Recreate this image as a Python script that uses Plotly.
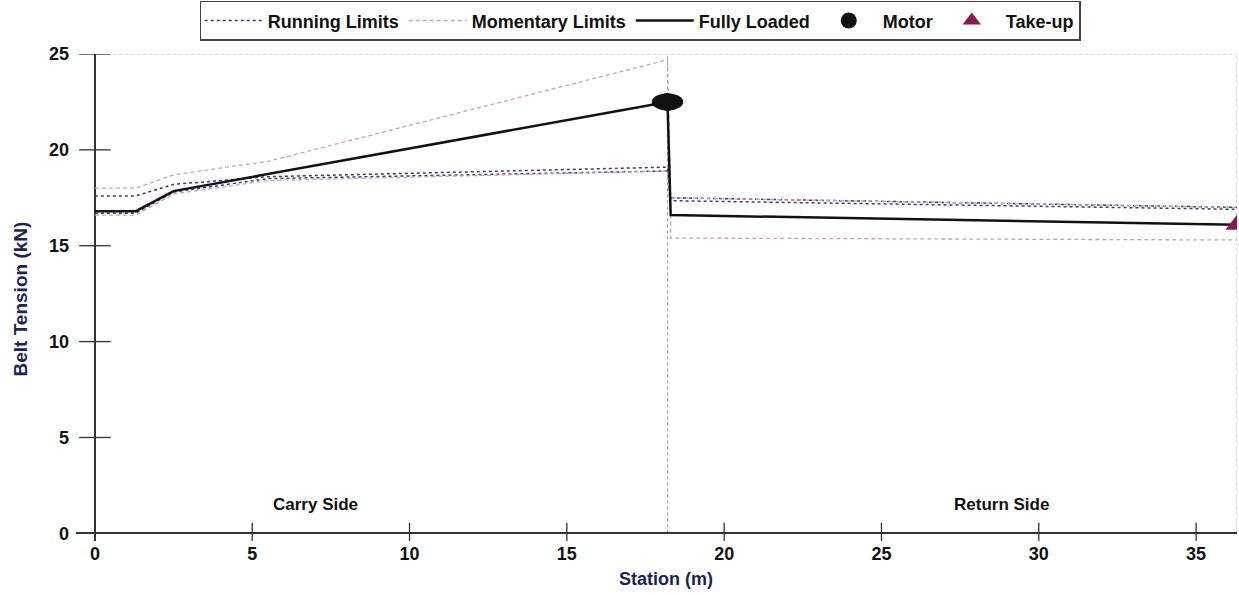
import plotly.graph_objects as go

# Station (m) and belt tension (kN) for each tension profile
run_hi_x = [0, 1.3, 2.5, 5.5, 18.2, 18.3, 36.3]
run_hi_y = [17.6, 17.6, 18.2, 18.6, 19.1, 17.5, 17.0]
run_lo_x = [0, 1.3, 2.5, 5.5, 18.2, 18.3, 36.3]
run_lo_y = [16.7, 16.7, 17.8, 18.5, 18.9, 17.35, 16.9]

mom_hi_x = [0, 1.3, 2.5, 5.5, 18.2, 18.3, 36.3]
mom_hi_y = [18.0, 18.0, 18.7, 19.4, 24.7, 17.5, 17.0]
mom_lo_x = [0, 1.3, 2.5, 5.5, 18.2, 18.3, 18.3, 36.3]
mom_lo_y = [16.6, 16.6, 17.7, 18.4, 18.9, 16.6, 15.4, 15.3]

full_x = [0, 1.3, 2.5, 18.2, 18.3, 36.3]
full_y = [16.8, 16.8, 17.85, 22.5, 16.6, 16.1]

motor_x, motor_y = [18.2], [22.5]
takeup_x, takeup_y = [36.3], [16.1]

drive_station = 18.2
x_end = 36.3
x_ticks = [0, 5, 10, 15, 20, 25, 30, 35]
y_ticks = [0, 5, 10, 15, 20, 25]

RUN_C = "#3b3d6e"
MOM_C = "#c9a3ad"
NAVY = "#1c2455"
FONT = "Liberation Sans Narrow, Liberation Sans, Arial"

W, H = 1239, 595
ML, MR, MT, MB = 76, 2, 53, 54
PW, PH = W - ML - MR, H - MT - MB


def px_to_paper(px, py):
    """Convert page pixel position to paper fractions of the plot area."""
    return (px - ML) / PW, (H - MB - py) / PH


fig = go.Figure()

fig.add_trace(go.Scatter(x=run_hi_x, y=run_hi_y, mode="lines", name="Running Limits",
                         line=dict(color=RUN_C, width=1.5, dash="dot"), legendgroup="run"))
fig.add_trace(go.Scatter(x=run_lo_x, y=run_lo_y, mode="lines", showlegend=False,
                         line=dict(color=RUN_C, width=1.5, dash="dot"), legendgroup="run"))
fig.add_trace(go.Scatter(x=mom_hi_x, y=mom_hi_y, mode="lines", name="Momentary Limits",
                         line=dict(color=MOM_C, width=1.3, dash="4px,3px"), legendgroup="mom"))
fig.add_trace(go.Scatter(x=mom_lo_x, y=mom_lo_y, mode="lines", showlegend=False,
                         line=dict(color=MOM_C, width=1.3, dash="4px,3px"), legendgroup="mom"))
fig.add_trace(go.Scatter(x=full_x, y=full_y, mode="lines", name="Fully Loaded",
                         line=dict(color="#111111", width=2.5)))
fig.add_trace(go.Scatter(x=motor_x, y=motor_y, mode="markers", name="Motor",
                         marker=dict(symbol="circle", size=18, color="#111111")))
fig.add_trace(go.Scatter(x=takeup_x, y=takeup_y, mode="markers", name="Take-up",
                         marker=dict(symbol="triangle-up", size=20, color="#8c1a4e")))

shapes = []
# motor drawn as a wide ellipse
for mx, my in zip(motor_x, motor_y):
    shapes.append(dict(type="circle", xref="x", yref="y", x0=mx - 0.5, x1=mx + 0.5,
                       y0=my - 0.45, y1=my + 0.45, fillcolor="#111111", line=dict(width=0)))
# drive divider and plot frame
shapes.append(dict(type="line", xref="x", yref="y", x0=drive_station, x1=drive_station, y0=0, y1=25,
                   line=dict(color="#9a9a9a", width=1, dash="dot"), layer="below"))
shapes.append(dict(type="line", xref="x", yref="y", x0=0, x1=x_end, y0=25, y1=25,
                   line=dict(color="#b5b5b5", width=1, dash="dot"), layer="below"))
shapes.append(dict(type="line", xref="x", yref="y", x0=x_end, x1=x_end, y0=0, y1=25,
                   line=dict(color="#b5b5b5", width=1, dash="dot"), layer="below"))
# crossing tick marks
for v in x_ticks:
    shapes.append(dict(type="line", xref="x", yref="y", x0=v, x1=v, y0=-0.55, y1=0.55,
                       line=dict(color="#333333", width=1.3)))
for v in y_ticks:
    shapes.append(dict(type="line", xref="x", yref="y", x0=-0.5, x1=0.5, y0=v, y1=v,
                       line=dict(color="#333333", width=1.3)))

bold = dict(family=FONT, size=17, color="#111111", weight="bold")
ytx, yty = px_to_paper(20, 299)
xtx, xty = px_to_paper(666, 579)

fig.update_layout(
    width=W, height=H,
    margin=dict(l=ML, r=MR, t=MT, b=MB),
    plot_bgcolor="white", paper_bgcolor="white",
    font=dict(family=FONT, color="#111111"),
    shapes=shapes,
    showlegend=True,
    legend=dict(orientation="h", x=0.486, xanchor="center", y=1.025, yanchor="bottom",
                bordercolor="#444444", borderwidth=1.5, bgcolor="white",
                font=dict(family=FONT, size=18, color="#111111", weight="bold"),
                itemwidth=58, tracegroupgap=0),
    annotations=[
        dict(x=7, y=1.5, xref="x", yref="y", text="Carry Side", showarrow=False, font=bold),
        dict(x=28.8, y=1.5, xref="x", yref="y", text="Return Side", showarrow=False, font=bold),
        dict(x=ytx, y=yty, xref="paper", yref="paper", text="Belt Tension (kN)", showarrow=False,
             textangle=-90, xanchor="center", yanchor="middle",
             font=dict(family=FONT, size=19, color=NAVY, weight="bold")),
        dict(x=xtx, y=xty, xref="paper", yref="paper", text="Station (m)", showarrow=False,
             xanchor="center", yanchor="middle",
             font=dict(family=FONT, size=18, color=NAVY, weight="bold")),
    ],
)

fig.update_xaxes(range=[-0.6, x_end], tickvals=x_ticks, ticks="", showgrid=False,
                 zeroline=True, zerolinecolor="#333333", zerolinewidth=1.5,
                 showline=False, tickfont=dict(family=FONT, size=18, color="#111111", weight="bold"))
fig.update_yaxes(range=[-0.4, 25], tickvals=y_ticks, ticks="", showgrid=False,
                 zeroline=True, zerolinecolor="#333333", zerolinewidth=1.5,
                 showline=False, ticklabelstandoff=6,
                 tickfont=dict(family=FONT, size=18, color="#111111", weight="bold"))

fig.write_html("out.html")
